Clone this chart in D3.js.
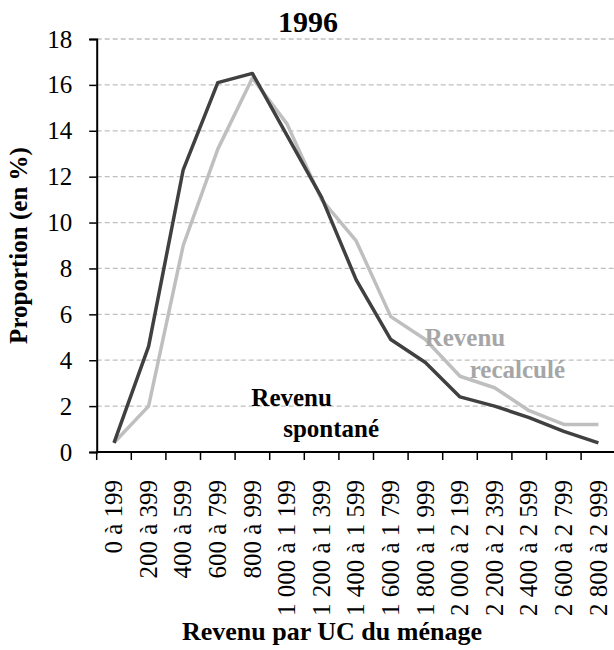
<!DOCTYPE html>
<html>
<head>
<meta charset="utf-8">
<script src="https://cdn.jsdelivr.net/npm/d3@7/dist/d3.min.js"></script>
<style>
    body { margin: 0; background: #fff; }
    svg { display: block; }
    svg text { font-family: "Liberation Serif", "Times New Roman", Times, serif; }
</style>
</head>
<body>
<div id="chart"></div>
<script>
/* jshint browser: true */

// tranches de revenu par UC
var categories = ['0 à 199', '200 à 399', '400 à 599', '600 à 799', '800 à 999',
    '1 000 à 1 199', '1 200 à 1 399', '1 400 à 1 599', '1 600 à 1 799', '1 800 à 1 999',
    '2 000 à 2 199', '2 200 à 2 399', '2 400 à 2 599', '2 600 à 2 799', '2 800 à 2 999'];

var spontane = [0.4, 4.6, 12.3, 16.1, 16.5, 13.8, 11.1, 7.5, 4.9, 3.9, 2.4, 2.0, 1.5, 0.9, 0.4];
var recalcule = [0.4, 2.0, 9.0, 13.2, 16.3, 14.3, 11.0, 9.2, 5.9, 4.9, 3.3, 2.8, 1.8, 1.2, 1.2];

var yTicks = [0, 2, 4, 6, 8, 10, 12, 14, 16, 18];

// libelles des courbes: [texte, position (index de tranche), valeur]
var labelsSpontane = [['Revenu', 4.47, 2.0], ['spontané', 5.39, 0.67]];
var labelsRecalcule = [['Revenu', 9.48, 4.63], ['recalculé', 10.78, 3.24]];

;(function(d3){

    'use strict';

    var width = 614, height = 650;
    var left = 96.7, top = 39, bottom = 452;
    var bw = 34.6;
    var right = left + bw * categories.length;

    var svg = d3.select('#chart')
                .append('svg')
                .attr('width', width)
                .attr('height', height);

    var x = d3.scaleBand().domain(categories).range([left, right]).padding(0);
    var xLin = d3.scaleLinear().domain([0, categories.length]).range([left, right]);
    var y = d3.scaleLinear().domain([0, 18]).range([bottom, top]);

    // grille
    svg.append('g')
        .selectAll('line')
        .data(yTicks.filter(function(d){ return d > 0; }))
        .enter().append('line')
        .attr('x1', left).attr('x2', width)
        .attr('y1', function(d){ return y(d); })
        .attr('y2', function(d){ return y(d); })
        .attr('stroke', '#c0c0c0')
        .attr('stroke-width', 1.3)
        .attr('stroke-dasharray', '5,3');

    // axe Y
    var yAxis = d3.axisLeft(y).tickValues(yTicks).tickSize(7.5).tickPadding(17);
    var gy = svg.append('g').attr('transform', 'translate(' + left + ',0)').call(yAxis);
    gy.attr('font-family', null);
    gy.select('.domain').attr('stroke', '#000').attr('stroke-width', 2);
    gy.selectAll('.tick line').attr('stroke', '#000').attr('stroke-width', 1.5);
    gy.selectAll('.tick text')
        .attr('font-size', 25)
        .attr('fill', '#000');

    // axe X: graduations entre les tranches
    var xAxis = d3.axisBottom(x).tickSize(0).tickPadding(0);
    var gx = svg.append('g').attr('transform', 'translate(0,' + bottom + ')').call(xAxis);
    gx.attr('font-family', null);
    gx.select('.domain').remove();
    gx.append('line')
        .attr('x1', left).attr('x2', width)
        .attr('stroke', '#000').attr('stroke-width', 2);
    gx.selectAll('.sep')
        .data(d3.range(categories.length + 1))
        .enter().append('line')
        .attr('class', 'sep')
        .attr('x1', function(i){ return xLin(i); })
        .attr('x2', function(i){ return xLin(i); })
        .attr('y1', 0).attr('y2', 8)
        .attr('stroke', '#000').attr('stroke-width', 1.5);
    gx.selectAll('.tick text')
        .attr('font-size', 25)
        .attr('fill', '#000')
        .attr('text-anchor', 'end')
        .attr('transform', 'translate(0,28) rotate(-90)')
        .attr('dy', '0.33em')
        .attr('y', 0)
        .attr('x', 0);

    // courbes
    var line = d3.line()
        .x(function(d, i){ return x(categories[i]) + x.bandwidth() / 2; })
        .y(function(d){ return y(d); });

    svg.append('path')
        .datum(recalcule)
        .attr('d', line)
        .attr('fill', 'none')
        .attr('stroke', '#bfbfbf')
        .attr('stroke-width', 3.5)
        .attr('stroke-linejoin', 'round');

    svg.append('path')
        .datum(spontane)
        .attr('d', line)
        .attr('fill', 'none')
        .attr('stroke', '#404040')
        .attr('stroke-width', 3.5)
        .attr('stroke-linejoin', 'round');

    // libelles
    function addLabels(list, color){
        svg.append('g')
            .selectAll('text')
            .data(list)
            .enter().append('text')
            .attr('x', function(d){ return xLin(d[1]); })
            .attr('y', function(d){ return y(d[2]); })
            .attr('font-size', 25)
            .attr('font-weight', 'bold')
            .attr('fill', color)
            .text(function(d){ return d[0]; });
    }
    addLabels(labelsSpontane, '#000');
    addLabels(labelsRecalcule, '#a6a6a6');

    // titres
    svg.append('text')
        .attr('x', 308).attr('y', 32)
        .attr('text-anchor', 'middle')
        .attr('font-size', 30)
        .attr('font-weight', 'bold')
        .text('1996');

    svg.append('text')
        .attr('transform', 'translate(27,' + ((top + bottom) / 2) + ') rotate(-90)')
        .attr('text-anchor', 'middle')
        .attr('font-size', 25)
        .attr('font-weight', 'bold')
        .text('Proportion (en %)');

    svg.append('text')
        .attr('x', 332).attr('y', 640)
        .attr('text-anchor', 'middle')
        .attr('font-size', 26)
        .attr('font-weight', 'bold')
        .text('Revenu par UC du ménage');

}(window.d3));
</script>
</body>
</html>
